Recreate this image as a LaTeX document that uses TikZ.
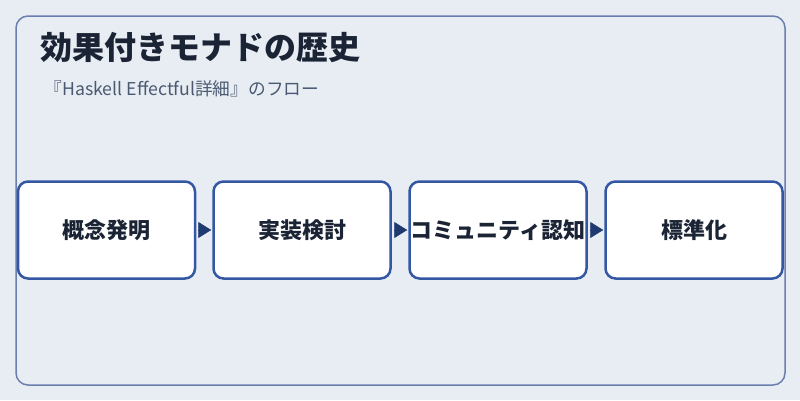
\documentclass[tikz,border=0pt]{standalone}
\usepackage{fontspec}
\setmainfont{Noto Sans CJK JP}
\usetikzlibrary{arrows.meta}
\definecolor{bg}{HTML}{E8EDF3}
\definecolor{frame}{HTML}{6B7FAF}
\definecolor{boxline}{HTML}{3457A3}
\definecolor{arrowc}{HTML}{1F3A70}
\definecolor{txt}{HTML}{1B2435}
\definecolor{sub}{HTML}{4A5A72}
\tikzset{
  stepbox/.style={draw=boxline, line width=2.5pt, fill=white, rounded corners=10pt,
    minimum width=177pt, minimum height=97pt, inner sep=0pt, text=txt,
    font=\fontsize{22}{26}\selectfont\bfseries},
  flow/.style={draw=arrowc, line width=0.5pt, -{Triangle[length=13pt,width=16pt]}, shorten <=2pt, shorten >=1pt}
}
\begin{document}
\begin{tikzpicture}[x=1pt,y=-1pt]
\path[fill=bg] (0,0) rectangle (800,400);
\useasboundingbox (0,0) rectangle (800,400);
\draw[frame, line width=1.5pt, rounded corners=12pt, fill=bg] (16,16) rectangle (785,385);
\node[anchor=west, text=txt, inner sep=0pt, font=\fontsize{32}{38}\selectfont\bfseries] (title) at (40,47) {効果付きモナドの歴史};
\node[anchor=west, text=sub, inner sep=0pt, font=\fontsize{17.7}{21}\selectfont] (subtitle) at (44.5,89) {『Haskell Effectful詳細』のフロー};
\node[stepbox] (s1) at (106.5,230) {概念発明};
\node[stepbox] (s2) at (302,230) {実装検討};
\node[stepbox] (s3) at (498,230) {コミュニティ認知};
\node[stepbox] (s4) at (694,230) {標準化};
\draw[flow] (s1.east) -- (s2.west);
\draw[flow] (s2.east) -- (s3.west);
\draw[flow] (s3.east) -- (s4.west);
\end{tikzpicture}
\end{document}
